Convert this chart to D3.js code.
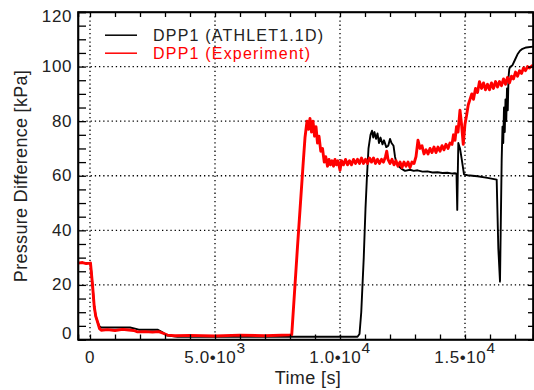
<!DOCTYPE html>
<html>
<head>
<meta charset="utf-8">
<script src="https://cdn.jsdelivr.net/npm/d3@7/dist/d3.min.js"></script>
<style>
  html, body { margin: 0; padding: 0; background: #fff; }
  svg { display: block; }
  text { font-family: "Liberation Sans", Arial, sans-serif; }
</style>
</head>
<body>
<svg id="chart" width="534" height="390"></svg>
<script>
// ---------------- data ----------------
const simTime = [-480, 20, 100, 170, 230, 300, 380, 450, 1000, 1600, 1800, 1950, 2400, 2700, 2900, 3100, 3500,
  6000, 9000, 10700, 10780, 10850, 10950, 11020, 11080, 11140, 11220, 11280, 11330, 11380, 11440, 11500,
  11560, 11620, 11700, 11760, 11850, 11930, 12000, 12060, 12140, 12200, 12260, 12350, 12470, 12600, 12800,
  12950, 13100, 13300, 13500, 13700, 13900, 14100, 14300, 14500, 14600, 14660, 14690, 14710, 14733, 14800,
  14870, 14960, 15100, 15500, 15900, 16267, 16333, 16400, 16467, 16500, 16530, 16560, 16590, 16620, 16650,
  16680, 16710, 16740, 16770, 16800, 16900, 17000, 17100, 17200, 17300, 17450, 17720];
const simDp = [28.0, 28.0, 20, 12, 8.5, 6.5, 4.8, 4.4, 4.4, 4.4, 4.0, 3.6, 3.6, 3.6, 2.6, 1.4, 1.0,
  1.0, 1.0, 1.0, 2, 10, 30, 48, 60, 70, 75, 76.5, 74, 76, 73.5, 75.5,
  72, 74, 71.5, 73, 70.5, 71, 73.5, 72, 71, 67, 64.5, 63.5, 62.5, 61.8, 62.2,
  61.8, 62.0, 61.5, 61.6, 61.2, 61.3, 61.0, 61.1, 60.8, 60.9, 60.8, 47.5, 60, 72, 70,
  66, 60.5, 60.2, 59.8, 59.2, 58.6, 33.4, 21.2, 65.8, 78, 72, 85, 76, 88, 80,
  92, 84, 96, 99, 99.8, 100.5, 102.5, 104.5, 105.8, 106.5, 107, 107.3];

const expTime = [-480, -300, -150, 20, 100, 170, 230, 300, 380, 450, 700, 1000, 1300, 1550, 1750, 1900, 2200,
  2500, 2750, 2950, 3100, 3400, 4000, 5000, 6000, 7000, 8000, 8070, 8300, 8530, 8600, 8680, 8740, 8800,
  8860, 8920, 8980, 9040, 9100, 9160, 9230, 9300, 9370, 9430, 9500, 9560, 9620, 9680, 9740, 9800, 9860,
  9920, 10000, 10060, 10140, 10220, 10300, 10380, 10460, 10540, 10620, 10700, 10780, 10860, 10940, 11020,
  11100, 11180, 11260, 11340, 11420, 11500, 11580, 11660, 11740, 11820, 11870, 11920, 12000, 12080, 12160,
  12240, 12320, 12400, 12480, 12560, 12640, 12720, 12800, 12880, 12960, 13040, 13120, 13200, 13280, 13360,
  13440, 13520, 13600, 13680, 13760, 13840, 13920, 14000, 14080, 14160, 14240, 14320, 14400, 14480, 14540,
  14600, 14660, 14720, 14800, 14860, 14930, 15000, 15060, 15130, 15200, 15270, 15340, 15420, 15500, 15580,
  15660, 15740, 15820, 15900, 15980, 16060, 16140, 16220, 16300, 16380, 16460, 16540, 16620, 16700, 16780,
  16860, 16940, 17020, 17100, 17180, 17260, 17340, 17420, 17500, 17580, 17720];
const expDp = [28.0, 28.2, 27.8, 28.0, 20, 12, 8.5, 6.5, 4.0, 3.4, 3.6, 3.3, 3.7, 3.5, 3.3, 2.8, 2.9,
  2.7, 2.9, 2.2, 1.6, 1.4, 1.5, 1.3, 1.6, 1.4, 1.7, 1.8, 34, 65, 74, 80, 77, 81,
  76, 80, 74.5, 78, 72, 74.5, 69, 70, 65, 67, 63.5, 66, 64, 65.5, 63.5, 66, 64,
  65.5, 62, 65.5, 64, 66, 64, 65.5, 64, 66, 64.5, 66, 64.5, 66.5, 64.5, 66,
  64.5, 66.5, 65, 66.5, 64.5, 66, 64.5, 66, 65, 67, 69, 66, 64.5, 66, 64,
  65.5, 63.5, 65, 63, 65, 63.5, 65, 63, 65, 64.5, 67, 73, 70, 71, 68,
  69.5, 68, 70, 68.5, 70.5, 68.5, 70.5, 69, 71, 69.5, 71.5, 70, 72, 71.5, 75,
  73, 78, 76, 84, 79, 71.5, 79, 82, 86, 88, 90, 88, 92, 90.5, 94.5,
  92, 94, 91.5, 93.5, 91.5, 94, 92, 94.5, 92.5, 94.5, 93, 95.5, 93.5, 96, 94,
  96.5, 95.5, 98, 96.5, 98.5, 97.5, 99.5, 98.5, 100, 99.5, 100.5];

const seriesNames = ["DPP1 (ATHLET1.1D)", "DPP1 (Experiment)"];
const seriesColors = ["#000000", "#ff0000"];
const yTickValues = [0, 20, 40, 60, 80, 100, 120];
const xTickValues = [0, 5000, 10000, 15000];
const xTickMantissa = ["0", "5.0•10", "1.0•10", "1.5•10"];
const xTickExponent = ["", "3", "4", "4"];
const xTitle = "Time [s]";
const yTitle = "Pressure Difference [kPa]";

// ---------------- layout ----------------
const svg = d3.select("#chart");
const L = 78, R = 533, T = 12, B = 339.5;
const x = d3.scaleLinear().domain([-480, 17720]).range([L, R]);
const y = d3.scaleLinear().domain([0, 120]).range([B, T]);

// grid (dotted)
const grid = svg.append("g");
grid.selectAll("line.gx").data(xTickValues).join("line")
  .attr("x1", d => x(d)).attr("x2", d => x(d)).attr("y1", T).attr("y2", B)
  .attr("stroke", "#000").attr("stroke-width", 1.3).attr("stroke-dasharray", "1.3,2.9");
grid.selectAll("line.gy").data(yTickValues.filter(v => v > 0 && v < 120)).join("line")
  .attr("x1", L).attr("x2", R).attr("y1", d => y(d)).attr("y2", d => y(d))
  .attr("stroke", "#000").attr("stroke-width", 1.3).attr("stroke-dasharray", "1.3,2.9");

// series
const line = d3.line().x(d => x(d[0])).y(d => y(d[1]));
const simData = simTime.map((t, i) => [t, simDp[i]]);
const expData = expTime.map((t, i) => [t, expDp[i]]);
const plot = svg.append("g");
plot.append("path").datum(simData).attr("d", line)
  .attr("fill", "none").attr("stroke", seriesColors[0]).attr("stroke-width", 1.9).attr("stroke-linejoin", "round");
plot.append("path").datum(expData).attr("d", line)
  .attr("fill", "none").attr("stroke", seriesColors[1]).attr("stroke-width", 2.9).attr("stroke-linejoin", "round");

// axes (inward ticks)
const xMinor = d3.range(0, 17001, 1000);
const yMinor = d3.range(0, 121, 5);
const axB = svg.append("g").attr("transform", `translate(0,${B})`)
  .call(d3.axisBottom(x).tickValues(xMinor).tickSize(-5).tickFormat(""));
const axT = svg.append("g").attr("transform", `translate(0,${T})`)
  .call(d3.axisTop(x).tickValues(xMinor).tickSize(-5).tickFormat(""));
const axL = svg.append("g").attr("transform", `translate(${L},0)`)
  .call(d3.axisLeft(y).tickValues(yMinor).tickSize(-8).tickFormat(""));
const axRt = svg.append("g").attr("transform", `translate(${R},0)`)
  .call(d3.axisRight(y).tickValues(yMinor).tickSize(-5).tickFormat(""));
[axB, axT, axL, axRt].forEach(a => {
  a.select(".domain").attr("stroke", "#000").attr("stroke-width", 1.6);
  a.selectAll(".tick line").attr("stroke", "#000").attr("stroke-width", 1.3);
});
svg.append("rect").attr("x", L).attr("y", T).attr("width", R - L).attr("height", B - T)
  .attr("fill", "none").attr("stroke", "#000").attr("stroke-width", 1.6);

// y tick labels
svg.append("g").selectAll("text").data(yTickValues).join("text")
  .attr("x", L - 6)
  .attr("y", d => y(d) + (d === 0 ? -5.7 : d === 120 ? 4.8 : 0))
  .attr("text-anchor", "end").attr("dominant-baseline", "central")
  .attr("font-size", 17).attr("letter-spacing", 0.6).attr("fill", "#222")
  .text(d => d);

// x tick labels with superscripts
const xl = svg.append("g").selectAll("text").data(xTickValues).join("text")
  .attr("x", d => x(d)).attr("y", 362.5).attr("text-anchor", "middle")
  .attr("font-size", 17).attr("letter-spacing", 0.6).attr("fill", "#222");
xl.append("tspan").text((d, i) => xTickMantissa[i]);
xl.append("tspan").attr("dy", -9.5).attr("font-size", 15.5).text((d, i) => xTickExponent[i]);

// axis titles
svg.append("text").attr("x", 308).attr("y", 383.5).attr("text-anchor", "middle")
  .attr("font-size", 18).attr("letter-spacing", 0.4).attr("fill", "#222").text(xTitle);
svg.append("text").attr("transform", "translate(26.5,176) rotate(-90)").attr("text-anchor", "middle")
  .attr("font-size", 18).attr("letter-spacing", 0.3).attr("fill", "#222").text(yTitle);

// legend
const lg = svg.append("g");
seriesNames.forEach((name, i) => {
  const ly = 35.2 + i * 18;
  lg.append("line").attr("x1", 105).attr("x2", 137).attr("y1", ly).attr("y2", ly)
    .attr("stroke", seriesColors[i]).attr("stroke-width", 1.5);
  lg.append("text").attr("x", 153).attr("y", ly).attr("dominant-baseline", "central")
    .attr("font-size", 16).attr("letter-spacing", 1.2).attr("fill", i === 0 ? "#222" : seriesColors[i]).text(name);
});
</script>
</body>
</html>
